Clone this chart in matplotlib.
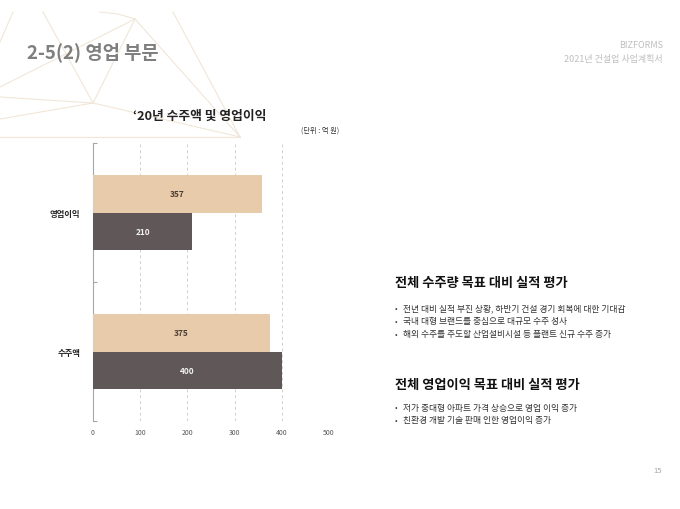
import matplotlib
matplotlib.use("Agg")
import matplotlib.pyplot as plt
from matplotlib.lines import Line2D

plt.rcParams['font.family'] = ['Noto Sans CJK KR', 'DejaVu Sans']

categories = ['수주액', '영업이익']
target = [375, 357]      # beige (upper bar)
actual = [400, 210]      # dark (lower bar)
xticks = [0, 100, 200, 300, 400, 500]

BEIGE = '#E8CBAA'
DARK = '#605858'

W, H = 680, 510
fig = plt.figure(figsize=(6.8, 5.1), dpi=100)

def fx(px):
    return px / W

def fy(py):
    return 1 - py / H

# decorative background lines
deco = [
    [(135, 20), (240, 138)],
    [(135, 20), (93, 104)],
    [(93, 104), (240, 138)],
    [(0, 88), (135, 20)],
    [(43, 13), (93, 104)],
    [(0, 98), (93, 104)],
    [(0, 120), (93, 104)],
    [(13, 13), (0, 43)],
    [(173, 13), (240, 138)],
    [(0, 138), (240, 138)],
    [(100, 13), (118, 15), (135, 20)],
]
for seg in deco:
    xs = [fx(p[0]) for p in seg]
    ys = [fy(p[1]) for p in seg]
    fig.add_artist(Line2D(xs, ys, color='#F1E6D8', lw=0.8, zorder=0))

# headings
fig.text(fx(27), fy(52), '2-5(2) 영업 부문', fontsize=13.5, fontweight='bold',
         color='#7F7F7F', va='center', ha='left')
fig.text(fx(663), fy(45), 'BIZFORMS', fontsize=6.5, color='#BFBFBF', ha='right', va='center')
fig.text(fx(663), fy(59), '2021년 건설업 사업계획서', fontsize=6.5, color='#BFBFBF',
         ha='right', va='center')
fig.text(fx(200), fy(116), '‘20년 수주액 및 영업이익', fontsize=9.2, fontweight='bold',
         color='#222222', ha='center', va='center',
         family=['Noto Sans CJK KR', 'DejaVu Sans'])
fig.text(fx(339), fy(131), '(단위 : 억 원)', fontsize=5.2, color='#333333',
         ha='right', va='center')

# chart axes
ax = fig.add_axes([fx(93), fy(422), fx(329) - fx(93), (422 - 144) / H])
bh = 0.27
ypos = list(range(len(categories)))
b1 = ax.barh([y + bh / 2 for y in ypos], target, height=bh, color=BEIGE, zorder=3)
b2 = ax.barh([y - bh / 2 for y in ypos], actual, height=bh, color=DARK, zorder=3)
for rect, v in zip(b1, target):
    ax.text(v / 2, rect.get_y() + rect.get_height() / 2, f'{v}', ha='center',
            va='center', fontsize=6, fontweight='bold', color='#4A3F35', zorder=4)
for rect, v in zip(b2, actual):
    ax.text(v / 2, rect.get_y() + rect.get_height() / 2, f'{v}', ha='center',
            va='center', fontsize=6, fontweight='bold', color='#F2F2F2', zorder=4)

ax.set_xlim(0, 500)
ax.set_ylim(-0.5, 1.5)
ax.set_xticks(xticks)
ax.set_xticklabels([str(t) for t in xticks], fontsize=5, color='#595959')
ax.set_yticks([-0.5, 0.5, 1.5], minor=False)
ax.set_yticklabels([])
ax.set_yticks(ypos, minor=True)
ax.set_yticklabels(categories, minor=True, fontsize=6, fontweight='bold', color='#222222')
ax.tick_params(axis='y', which='minor', length=0, pad=9)
ax.tick_params(axis='y', which='major', direction='in', length=3, color='#A6A6A6')
ax.tick_params(axis='x', length=0, pad=5)
ax.grid(axis='x', color='#D0D0D0', linestyle=(0, (3, 3)), lw=0.7, zorder=0)
for s in ['top', 'right', 'bottom']:
    ax.spines[s].set_visible(False)
ax.spines['left'].set_color('#A6A6A6')
ax.spines['left'].set_linewidth(0.8)
ax.patch.set_alpha(0)

# right-side text
fig.text(fx(395), fy(283), '전체 수주량 목표 대비 실적 평가', fontsize=9.5, fontweight='bold',
         color='#111111', va='center')
b_lines1 = ['전년 대비 실적 부진 상황, 하반기 건설 경기 회복에 대한 기대감',
            '국내 대형 브랜드를 중심으로 대규모 수주 성사',
            '해외 수주를 주도할 산업설비시설 등 플랜트 신규 수주 증가']
for i, t in enumerate(b_lines1):
    y = 309 + 13 * i
    fig.text(fx(395), fy(y), '•', fontsize=5.5, color='#333333', va='center')
    fig.text(fx(403), fy(y), t, fontsize=6.3, color='#333333', va='center')

fig.text(fx(395), fy(385), '전체 영업이익 목표 대비 실적 평가', fontsize=9.5, fontweight='bold',
         color='#111111', va='center')
b_lines2 = ['저가 중대형 아파트 가격 상승으로 영업 이익 증가',
            '친환경 개발 기술 판매 인한 영업이익 증가']
for i, t in enumerate(b_lines2):
    y = 408 + 13 * i
    fig.text(fx(395), fy(y), '•', fontsize=5.5, color='#333333', va='center')
    fig.text(fx(403), fy(y), t, fontsize=6.3, color='#333333', va='center')

fig.text(fx(662), fy(471), '15', fontsize=5.5, color='#A6A6A6', ha='right', va='center')

fig.savefig('out.png', dpi=100)
